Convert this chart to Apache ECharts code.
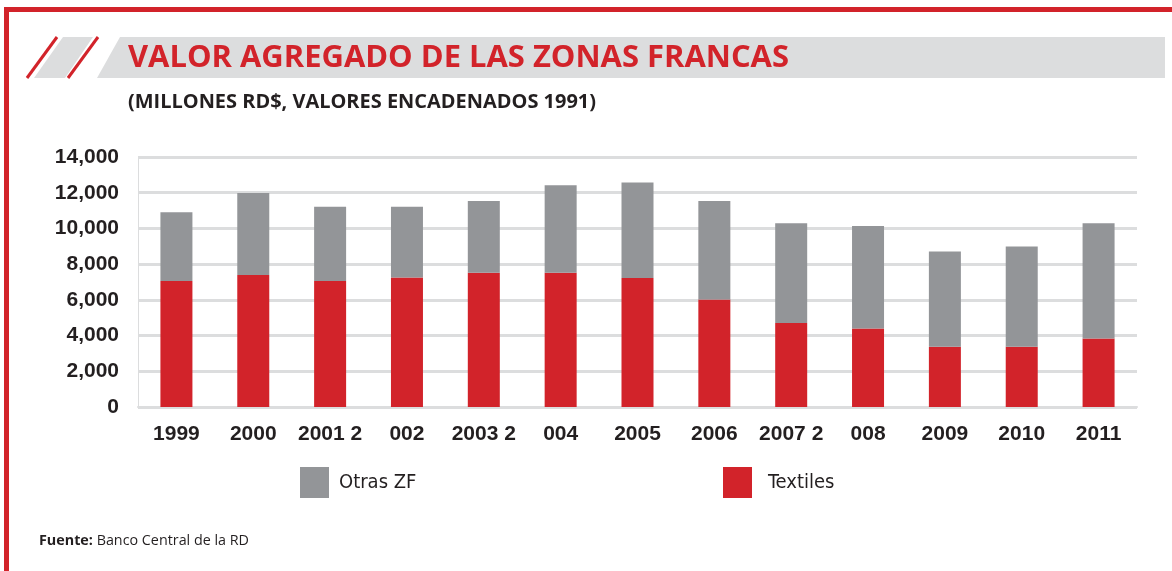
<!DOCTYPE html>
<html>
<head>
<meta charset="utf-8">
<script src="https://cdn.jsdelivr.net/npm/echarts@6/dist/echarts.min.js"></script>
<style>
    body { margin: 0; background: #fff; }
    #chart { width: 1172px; height: 571px; }
</style>
</head>
<body>
<div id="chart"></div>
<script>
var years = ['1999', '2000', '2001 2', '002', '2003 2', '004', '2005', '2006', '2007 2', '008', '2009', '2010', '2011'];
var textiles = [7050, 7390, 7060, 7250, 7520, 7520, 7230, 6020, 4700, 4400, 3370, 3370, 3830];
var otrasZF = [3850, 4600, 4160, 3970, 4010, 4900, 5340, 5510, 5590, 5740, 5340, 5620, 6460];
var yTicks = [0, 2000, 4000, 6000, 8000, 10000, 12000, 14000];

var titleText = 'VALOR AGREGADO DE LAS ZONAS FRANCAS';
var subText = '(MILLONES RD$, VALORES ENCADENADOS 1991)';

var RED = '#d2232a';
var GRAY = '#939598';
var INK = '#231f20';
var LINE = '#dcddde';
var NARROW = "'Liberation Sans Narrow', 'DejaVu Sans Condensed', 'Open Sans', sans-serif";

// squeeze a text to the width it has in the picture
function fitScale(text, font, target) {
    var ctx = document.createElement('canvas').getContext('2d');
    ctx.font = font;
    var w = ctx.measureText(text).width;
    return w > 0 ? target / w : 1;
}

var chart = echarts.init(document.getElementById('chart'));

var titleScale = fitScale(titleText, "bold 30px 'Open Sans'", 661);
var subScale = fitScale(subText, "bold 19px 'Open Sans'", 468);
var srcScale = fitScale('Fuente: Banco Central de la RD', "15px 'Open Sans'", 206);

chart.setOption({
    animation: false,
    grid: { left: 138, right: 35, top: 157, bottom: 164 },
    legend: [{
        data: ['Otras ZF'],
        left: 300, top: 467, padding: 0,
        icon: 'rect', itemWidth: 29, itemHeight: 31,
        selectedMode: false,
        textStyle: { fontSize: 20, color: INK, fontFamily: NARROW, padding: [8, 0, 0, 5] }
    }, {
        data: ['Textiles'],
        left: 723, top: 467, padding: 0,
        icon: 'rect', itemWidth: 29, itemHeight: 31,
        selectedMode: false,
        textStyle: { fontSize: 20, color: INK, fontFamily: NARROW, padding: [8, 0, 0, 11] }
    }],
    xAxis: [{
        type: 'category',
        data: years,
        axisLine: { lineStyle: { color: LINE, width: 2 } },
        axisTick: { interval: 0, length: 6, lineStyle: { color: LINE, width: 2 } },
        axisLabel: {
            interval: 0,
            margin: 17,
            fontSize: 21, fontWeight: 'bold', color: INK,
            fontFamily: "'Liberation Sans', Arial, sans-serif"
        }
    }, {
        type: 'category',
        data: years,
        position: 'bottom',
        axisLine: { show: false },
        axisTick: { interval: 0, inside: true, length: 5, lineStyle: { color: LINE, width: 2 } },
        axisLabel: { show: false }
    }],
    yAxis: {
        type: 'value',
        min: yTicks[0],
        max: yTicks[yTicks.length - 1],
        interval: 2000,
        axisLine: { show: true, lineStyle: { color: LINE, width: 1 } },
        axisTick: { show: false },
        splitLine: { lineStyle: { color: LINE, width: 3 } },
        axisLabel: {
            margin: 19,
            fontSize: 21, fontWeight: 'bold', color: INK,
            fontFamily: "'Liberation Sans', Arial, sans-serif",
            formatter: function (v) { return v.toLocaleString('en-US'); }
        }
    },
    series: [{
        name: 'Textiles',
        type: 'bar',
        stack: 'zf',
        barWidth: 32,
        itemStyle: { color: RED },
        data: textiles
    }, {
        name: 'Otras ZF',
        type: 'bar',
        stack: 'zf',
        barWidth: 32,
        itemStyle: { color: GRAY },
        data: otrasZF
    }],
    graphic: [
        // red frame
        { type: 'rect', shape: { x: 4, y: 7, width: 1168, height: 5 }, style: { fill: RED } },
        { type: 'rect', shape: { x: 4, y: 7, width: 5, height: 564 }, style: { fill: RED } },
        // header band
        { type: 'polygon', shape: { points: [[97, 78], [120, 37], [1165, 37], [1165, 78]] }, style: { fill: LINE } },
        { type: 'polygon', shape: { points: [[34, 78], [63, 37], [93, 37], [65, 78]] }, style: { fill: LINE } },
        { type: 'line', shape: { x1: 27, y1: 78, x2: 57, y2: 37 }, style: { stroke: RED, lineWidth: 3 } },
        { type: 'line', shape: { x1: 68, y1: 78, x2: 98, y2: 37 }, style: { stroke: RED, lineWidth: 3 } },
        {
            type: 'text', x: 128, y: 58, scaleX: titleScale,
            style: {
                text: titleText, fill: RED,
                font: "bold 30px 'Open Sans'",
                textVerticalAlign: 'middle'
            }
        },
        {
            type: 'text', x: 128, y: 103, scaleX: subScale,
            style: {
                text: subText, fill: INK,
                font: "bold 19px 'Open Sans'",
                textVerticalAlign: 'middle'
            }
        },
        {
            type: 'text', x: 39, y: 541, scaleX: srcScale,
            style: {
                text: '{b|Fuente:} Banco Central de la RD',
                fill: INK, fontSize: 15, fontFamily: 'Open Sans',
                verticalAlign: 'middle',
                rich: { b: { fontWeight: 'bold', fontSize: 15, fontFamily: 'Open Sans', fill: INK } }
            }
        }
    ]
});
</script>
</body>
</html>
